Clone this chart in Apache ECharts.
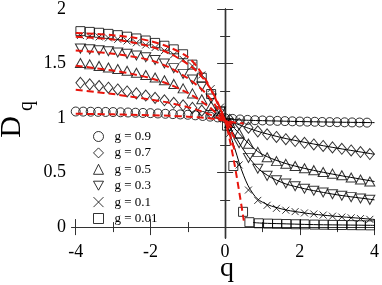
<!DOCTYPE html>
<html><head><meta charset="utf-8">
<script src="https://cdn.jsdelivr.net/npm/echarts@6/dist/echarts.min.js"></script>
<style>html,body{margin:0;padding:0;background:#fff}#c{width:382px;height:285px}</style>
</head><body><div id="c"></div>
<script>
// ---- data ----
const xTicks = [-4, -2, 0, 2, 4];
const xMinorTicks = [-3, -1, 1, 3];
const yTicks = [0, 0.5, 1, 1.5, 2];
const yMinorTicks = [0.25, 0.75, 1.25, 1.75];
const legendNames = ['g = 0.9', 'g = 0.7', 'g = 0.5', 'g = 0.3', 'g = 0.1', 'g = 0.01'];

const qCircle = [-4,-3.8,-3.6,-3.4,-3.2,-3,-2.8,-2.6,-2.4,-2.2,-2,-1.8,-1.6,-1.4,-1.2,-1,-0.8,-0.6,-0.4,-0.2,0,0.2,0.4,0.6,0.8,1,1.2,1.4,1.6,1.8,2,2.2,2.4,2.6,2.8,3,3.2,3.4,3.6,3.8];
const dG09 = [1.060,1.059,1.058,1.057,1.056,1.055,1.053,1.051,1.049,1.047,1.045,1.042,1.039,1.036,1.033,1.030,1.025,1.019,1.013,1.006,0.998,0.992,0.987,0.983,0.980,0.978,0.976,0.974,0.972,0.970,0.968,0.967,0.966,0.964,0.963,0.962,0.961,0.960,0.959,0.958];

const qGrid = [-3.875,-3.625,-3.375,-3.125,-2.875,-2.625,-2.375,-2.125,-1.875,-1.625,-1.375,-1.125,-0.875,-0.625,-0.375,-0.125,0.125,0.375,0.625,0.875,1.125,1.375,1.625,1.875,2.125,2.375,2.625,2.875,3.125,3.375,3.625,3.875];
const dG07 = [1.323,1.309,1.294,1.278,1.262,1.244,1.226,1.206,1.185,1.163,1.140,1.117,1.093,1.068,1.042,1.014,0.984,0.948,0.912,0.878,0.851,0.827,0.806,0.789,0.773,0.758,0.744,0.731,0.718,0.703,0.688,0.670];
const dG05 = [1.505,1.492,1.478,1.464,1.449,1.433,1.415,1.395,1.372,1.346,1.313,1.272,1.226,1.172,1.110,1.040,0.955,0.860,0.765,0.690,0.640,0.605,0.580,0.560,0.540,0.522,0.505,0.490,0.475,0.455,0.437,0.418];
const dG03 = [1.637,1.630,1.622,1.613,1.602,1.589,1.574,1.557,1.532,1.500,1.458,1.405,1.353,1.290,1.180,1.060,0.920,0.770,0.635,0.535,0.470,0.430,0.400,0.375,0.352,0.333,0.317,0.302,0.288,0.275,0.262,0.250];
const dG01 = [1.757,1.751,1.744,1.735,1.722,1.707,1.690,1.670,1.647,1.618,1.582,1.538,1.478,1.395,1.270,1.100,0.860,0.570,0.340,0.245,0.200,0.172,0.155,0.142,0.130,0.120,0.110,0.100,0.092,0.085,0.078,0.071];

const qSquare = [-3.875,-3.625,-3.375,-3.125,-2.875,-2.625,-2.375,-2.125,-1.875,-1.625,-1.375,-1.125,-0.875,-0.625,-0.375,-0.125,0.05,0.22,0.48,0.65,0.9,1.15,1.39,1.64,1.89,2.13,2.39,2.64,2.88,3.13,3.39,3.63,3.88];
const dG001 = [1.797,1.790,1.782,1.772,1.760,1.746,1.730,1.711,1.689,1.663,1.630,1.585,1.490,1.370,1.220,1.060,0.930,0.560,0.140,0.045,0.035,0.032,0.030,0.028,0.026,0.025,0.023,0.022,0.020,0.019,0.018,0.017,0.016];

// red dashed fits (q <= ~0.5)
const qFitL = [-4,-3.5,-3,-2.5,-2,-1.5,-1,-0.75,-0.5,-0.25,0,0.25,0.5];
const fitL09 = [1.040,1.037,1.034,1.030,1.026,1.021,1.013,1.008,1.001,0.990,0.975,0.960,0.950];
const fitL07 = [1.260,1.240,1.220,1.195,1.170,1.140,1.100,1.075,1.045,1.010,0.975,0.935,null];
const fitL05 = [1.480,1.458,1.435,1.405,1.365,1.310,1.230,1.180,1.120,1.050,0.975,0.890,null];
const fitL03 = [1.620,1.607,1.590,1.565,1.530,1.465,1.365,1.300,1.220,1.110,0.975,0.820,null];
const fitL01 = [1.745,1.735,1.720,1.695,1.655,1.595,1.495,1.425,1.325,1.180,0.975,0.710,null];
const fitL001 = [1.780,1.772,1.760,1.740,1.705,1.650,1.560,1.470,1.340,1.170,0.975,0.580,0.060];

// black solid fits (q >= 0)
const qFitR = [0,0.25,0.5,0.75,1,1.5,2,2.5,3,3.5,4];
const fitR09 = [0.990,0.985,0.981,0.978,0.976,0.972,0.968,0.965,0.962,0.960,0.958];
const fitR07 = [0.990,0.955,0.922,0.892,0.866,0.822,0.786,0.754,0.724,0.696,0.668];
const fitR05 = [0.990,0.905,0.812,0.728,0.667,0.597,0.549,0.511,0.478,0.448,0.418];
const fitR03 = [0.990,0.845,0.705,0.590,0.505,0.412,0.362,0.326,0.296,0.272,0.250];
const fitR01 = [0.990,0.730,0.470,0.305,0.228,0.168,0.136,0.114,0.098,0.084,0.070];
const fitR001 = [null,null,null,0.042,0.036,0.031,0.026,0.022,0.020,0.018,0.016];

// ---- build ----
const FONT = 'Liberation Serif';
const zip = (xs, ys) => xs.map((x, i) => [x, ys[i]]);
const crossPath = 'path://M0 0L10 10M10 0L0 10';
const downTri = 'path://M0 0L10 0L5 9Z';
const symbolDefs = [
  {name: legendNames[0], q: qCircle, d: dG09, symbol: 'circle', size: 9},
  {name: legendNames[1], q: qGrid, d: dG07, symbol: 'diamond', size: [9, 11]},
  {name: legendNames[2], q: qGrid, d: dG05, symbol: 'triangle', size: [10, 9]},
  {name: legendNames[3], q: qGrid, d: dG03, symbol: downTri, size: [10, 9]},
  {name: legendNames[4], q: qGrid, d: dG01, symbol: crossPath, size: 7},
  {name: legendNames[5], q: qSquare, d: dG001, symbol: 'rect', size: 9}
];
const redFits = [fitL09, fitL07, fitL05, fitL03, fitL01, fitL001];
const blackFits = [fitR09, fitR07, fitR05, fitR03, fitR01, fitR001];

const series = [];
symbolDefs.forEach(s => {
  series.push({
    type: 'scatter', name: s.name, data: zip(s.q, s.d),
    symbol: s.symbol, symbolSize: s.size,
    itemStyle: {color: 'rgba(0,0,0,0)', borderColor: '#000', borderWidth: 1},
    z: 2, silent: true
  });
});
blackFits.forEach((f, i) => {
  series.push({
    type: 'line', name: 'bk' + i, data: zip(qFitR, f), smooth: 0.4,
    symbol: 'none', lineStyle: {color: '#000', width: 1}, z: 3, silent: true
  });
});
redFits.forEach((f, i) => {
  series.push({
    type: 'line', name: 'rd' + i, data: zip(qFitL, f), smooth: 0.3,
    symbol: 'none', lineStyle: {color: '#e8140c', width: 2, type: [7, 4]}, z: 4, silent: true
  });
});

const axLine = {show: true, lineStyle: {color: '#333', width: 1.2}};
function xAx(pos, vals, len, labels) {
  return {
    type: 'value', position: pos, min: -4.1, max: 4, splitLine: {show: false},
    axisLine: axLine,
    axisTick: {show: true, inside: true, length: len, customValues: vals, lineStyle: {color: '#333', width: 1}},
    axisLabel: {show: labels, customValues: vals, margin: 5, fontFamily: FONT, fontSize: 18, color: '#000'}
  };
}
function yAx(pos, vals, len, labels) {
  return {
    type: 'value', position: pos, min: -0.1, max: 2, splitLine: {show: false},
    axisLine: axLine,
    axisTick: {show: true, inside: true, length: len, customValues: vals, lineStyle: {color: '#333', width: 1}},
    axisLabel: {show: labels, customValues: vals, margin: 6, fontFamily: FONT, fontSize: 18, color: '#000'}
  };
}

const option = {
  animation: false,
  backgroundColor: '#fff',
  grid: {left: 72, right: 7, top: 9, bottom: 47, containLabel: false},
  xAxis: [xAx('bottom', xTicks, 8, true), xAx('bottom', xMinorTicks, 5, false),
          xAx('top', xTicks, 8, false), xAx('top', xMinorTicks, 5, false)],
  yAxis: [yAx('left', yTicks, 8, true), yAx('left', yMinorTicks, 5, false),
          yAx('right', yTicks, 8, false), yAx('right', yMinorTicks, 5, false)],
  legend: {
    orient: 'vertical', left: 88, top: 125, itemWidth: 10, itemHeight: 10, itemGap: 3.4,
    selectedMode: false,
    textStyle: {fontFamily: FONT, fontSize: 13, color: '#000', padding: [0, 0, 0, 6]},
    data: legendNames.map(n => ({name: n, itemStyle: {color: 'rgba(0,0,0,0)', borderColor: '#000', borderWidth: 1}}))
  },
  graphic: [
    {type: 'text', x: 12, y: 127, rotation: Math.PI / 2,
     style: {text: 'D', font: '30px "Liberation Serif"', fill: '#000', textAlign: 'center', textVerticalAlign: 'middle'}},
    {type: 'text', x: 27, y: 106, rotation: Math.PI / 2,
     style: {text: 'q', font: '20px "Liberation Serif"', fill: '#000', textAlign: 'center', textVerticalAlign: 'middle'}},
    {type: 'text', x: 227, y: 269,
     style: {text: 'q', font: '28px "Liberation Serif"', fill: '#000', textAlign: 'center', textVerticalAlign: 'middle'}}
  ],
  series: series
};
const chart = echarts.init(document.getElementById('c'), null, {renderer: 'canvas'});
chart.setOption(option);
</script>
</body></html>
